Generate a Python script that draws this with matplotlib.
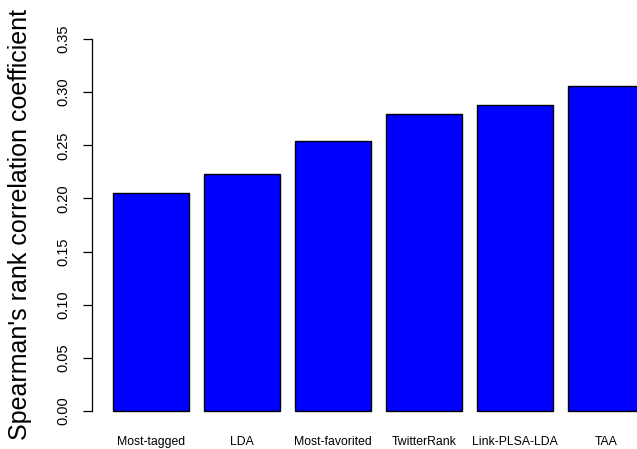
import matplotlib
matplotlib.use("Agg")
import matplotlib.pyplot as plt
import numpy as np

plt.rcParams['font.family'] = ['Liberation Sans', 'DejaVu Sans']

# Bar data
methods = ['Most-tagged', 'LDA', 'Most-favorited', 'TwitterRank', 'Link-PLSA-LDA', 'TAA']
scores = [0.205, 0.223, 0.254, 0.279, 0.288, 0.306]
yticks = [0.00, 0.05, 0.10, 0.15, 0.20, 0.25, 0.30, 0.35]

W, H = 637, 449
fig = plt.figure(figsize=(W / 100, H / 100), dpi=100)

# plot region like R's barplot (space=0.2, width=1), runs past the right edge
left_px, right_px, top_px, bottom_px = 92, 665, 24.1, 425.9
ax = fig.add_axes([left_px / W, 1 - bottom_px / H,
                   (right_px - left_px) / W, (bottom_px - top_px) / H])

pos = 0.7 + 1.2 * np.arange(len(methods))
ax.bar(pos, scores, width=1.0, color='#0000FF', edgecolor='black', linewidth=1.0)

ax.set_xlim(-0.08, 7.48)
ax.set_ylim(-0.014, 0.364)

for s in ['top', 'right', 'bottom']:
    ax.spines[s].set_visible(False)
ax.spines['left'].set_bounds(0, 0.35)
ax.spines['left'].set_linewidth(0.9)

ax.set_yticks(yticks)
ax.set_yticklabels(['%.2f' % t for t in yticks], rotation=90, va='center', fontsize=10.5)
ax.tick_params(axis='y', length=6.5, width=0.9, pad=9)

ax.set_xticks(pos)
ax.set_xticklabels(methods, fontsize=8.8)
ax.tick_params(axis='x', length=0, pad=7)

ax.set_ylabel("Spearman's rank correlation coefficient", fontsize=18)
ax.yaxis.set_label_coords(-0.104, 0.5)

fig.savefig('out.png', dpi=100)
